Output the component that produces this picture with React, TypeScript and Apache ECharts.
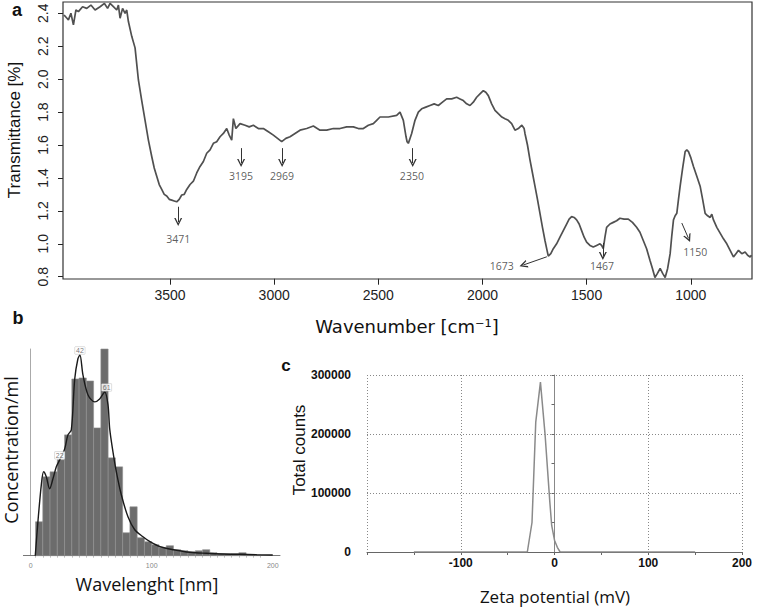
import React, { useEffect, useRef } from 'react';
import * as echarts from 'echarts';

// ---------- Panel a : FTIR spectrum ----------
const ftirWavenumber = [
  4009, 3995, 3988, 3976, 3964, 3952, 3940, 3920, 3900, 3880, 3860, 3836, 3815, 3800, 3788, 3772, 3756, 3748, 3740, 3728,
  3716, 3708, 3700, 3684, 3668, 3652, 3636, 3620, 3604, 3588, 3576, 3564, 3552, 3540, 3528, 3516, 3504, 3492, 3480, 3468,
  3456, 3444, 3432, 3420, 3404, 3388, 3372, 3356, 3340, 3324, 3308, 3292, 3276, 3260, 3244, 3228, 3216, 3204, 3196, 3184,
  3164, 3140, 3120, 3100, 3076, 3052, 3028, 3004, 2984, 2964, 2944, 2924, 2900, 2876, 2844, 2812, 2780, 2748, 2716, 2684,
  2652, 2620, 2596, 2572, 2548, 2524, 2508, 2492, 2452, 2412, 2396, 2380, 2367, 2362, 2356, 2348, 2340, 2324, 2308, 2292,
  2272, 2252, 2232, 2212, 2192, 2172, 2148, 2124, 2108, 2092, 2076, 2060, 2044, 2028, 2012, 1996, 1984, 1972, 1956, 1940,
  1924, 1907, 1892, 1876, 1860, 1844, 1828, 1811, 1800, 1796, 1784, 1772, 1760, 1748, 1736, 1724, 1712, 1700, 1690, 1684,
  1672, 1660, 1644, 1628, 1612, 1596, 1584, 1572, 1560, 1548, 1536, 1524, 1512, 1500, 1484, 1468, 1452, 1436, 1428, 1420,
  1412, 1404, 1388, 1372, 1356, 1340, 1320, 1300, 1280, 1260, 1244, 1228, 1212, 1196, 1184, 1172, 1160, 1147, 1135, 1123,
  1111, 1099, 1091, 1083, 1075, 1067, 1059, 1051, 1039, 1027, 1019, 1011, 999, 987, 971, 955, 943, 931, 919, 907,
  899, 891, 875, 859, 843, 827, 811, 795, 783, 771, 755, 739, 727, 715, 709,
];
const ftirTransmittance = [
  2.39, 2.37, 2.36, 2.4, 2.33, 2.42, 2.41, 2.44, 2.43, 2.45, 2.42, 2.44, 2.46, 2.43, 2.46, 2.44, 2.42, 2.45, 2.37, 2.43,
  2.4, 2.42, 2.35, 2.26, 2.19, 1.995, 1.87, 1.75, 1.63, 1.53, 1.46, 1.41, 1.36, 1.33, 1.3, 1.29, 1.27, 1.265, 1.26, 1.255,
  1.27, 1.296, 1.3, 1.33, 1.36, 1.38, 1.43, 1.47, 1.5, 1.55, 1.57, 1.61, 1.62, 1.65, 1.67, 1.7, 1.66, 1.63, 1.76, 1.7,
  1.73, 1.72, 1.71, 1.72, 1.7, 1.7, 1.68, 1.66, 1.64, 1.62, 1.64, 1.65, 1.67, 1.69, 1.7, 1.715, 1.69, 1.69, 1.7, 1.7,
  1.71, 1.71, 1.7, 1.7, 1.72, 1.73, 1.75, 1.77, 1.77, 1.78, 1.8, 1.75, 1.65, 1.62, 1.61, 1.64, 1.67, 1.75, 1.8, 1.82,
  1.83, 1.84, 1.85, 1.84, 1.86, 1.88, 1.88, 1.89, 1.88, 1.87, 1.85, 1.84, 1.86, 1.89, 1.91, 1.93, 1.92, 1.9, 1.85, 1.81,
  1.79, 1.77, 1.76, 1.75, 1.73, 1.69, 1.7, 1.72, 1.7, 1.67, 1.6, 1.51, 1.43, 1.35, 1.27, 1.185, 1.1, 1.02, 0.96, 0.925,
  0.94, 0.97, 1.0, 1.04, 1.08, 1.12, 1.15, 1.165, 1.16, 1.145, 1.12, 1.08, 1.04, 1.01, 0.99, 0.98, 0.99, 1.0, 0.99, 0.97,
  1.04, 1.1, 1.12, 1.13, 1.14, 1.155, 1.15, 1.15, 1.13, 1.1, 1.07, 1.02, 0.97, 0.9, 0.85, 0.795, 0.82, 0.85, 0.82, 0.795,
  0.85, 0.94, 1.05, 1.145, 1.17, 1.185, 1.27, 1.35, 1.46, 1.56, 1.57, 1.56, 1.52, 1.47, 1.41, 1.35, 1.27, 1.185, 1.17, 1.16,
  1.18, 1.145, 1.1, 1.065, 1.03, 1.0, 0.96, 0.92, 0.94, 0.96, 0.94, 0.95, 0.93, 0.92, 0.93,
];
const ftirTicks = [1000, 1500, 2000, 2500, 3000, 3500];

const peakLabels = ['3471', '3195', '2969', '2350', '1673', '1467', '1150'];
const peakLabelX = [3461, 3159, 2962, 2339, 1907, 1426, 979];
const peakLabelY = [1.029, 1.411, 1.411, 1.411, 0.865, 0.865, 0.95];
const arrowFromX = [3461, 3159, 2962, 2335, 1691, 1422, 1043];
const arrowFromY = [1.225, 1.581, 1.581, 1.581, 0.921, 1.005, 1.126];
const arrowToX = [3461, 3159, 2962, 2335, 1804, 1422, 1011];
const arrowToY = [1.132, 1.49, 1.49, 1.49, 0.871, 0.926, 1.033];

// ---------- Panel b : size distribution ----------
const sizeBinEdges = [4, 10, 16, 22, 28, 34, 40, 46, 52, 58, 64, 70, 76, 82, 88, 94, 100, 106, 112, 118, 124, 130, 136, 142, 148, 154, 160, 166, 172, 178, 184, 190];
const sizeBinHeights = [34, 79, 84, 96, 121, 177, 178, 175, 128, 207, 98, 89, 23, 49, 18, 14, 11, 8, 10, 6, 5, 4, 5, 6, 3, 2, 2, 2, 3, 1, 0.5];
const fitNm = [3.8, 6, 8.8, 10.7, 12.9, 15.7, 18.4, 21.2, 24, 28.1, 30.8, 33.6, 36.4, 39, 40.7, 43.2, 47.4, 52.9, 57, 61.2, 63.9, 65.3, 68, 70.8, 74.9, 80.4, 86, 92.8, 98.6, 107, 118, 131.7, 145, 159, 173, 186.8, 200];
const fitConc = [0, 34, 71, 84, 79, 67, 77, 89, 96, 107, 121, 126, 177, 197, 201, 181, 161, 154, 157, 164, 151, 127, 104, 84, 61, 39, 26, 19, 14, 9, 6, 3.4, 2.4, 1.7, 1.4, 1, 0.7];
const modeNm = [24, 40.7, 62.8];
const modeConc = [96, 201, 164];
const modeText = ['22', '42', '61'];
const sizeTicks = [0.01, 100, 200];

// ---------- Panel c : zeta potential ----------
const zetaMv = [-150, -29, -24, -20, -15, -10, -5, -3, 0, 3, 6, 150];
const zetaCounts = [0, 0, 50000, 220000, 288000, 198000, 85000, 45000, 20000, 8000, 0, 0];

const ARIAL = '"Liberation Sans", Arial, sans-serif';
const OPEN = '"Open Sans", "Noto Sans", sans-serif';

export default function App() {
  const ref = useRef<HTMLDivElement>(null);

  useEffect(() => {
    if (!ref.current) return;
    const chart = echarts.init(ref.current, undefined, { renderer: 'svg' });

    const chevron = 'path://M0,10 L5,0 L10,10 L8.2,10 L5,3.6 L1.8,10 Z';

    const option: any = {
      animation: false,
      backgroundColor: '#ffffff',
      grid: [
        { left: 63, top: 13.3, width: 689, height: 263.4, containLabel: false, outerBoundsMode: 'none' },
        { left: 23.4, top: 349, width: 256.6, height: 206.7, containLabel: false, outerBoundsMode: 'none' },
        { left: 367, top: 375, width: 375, height: 177, containLabel: false, outerBoundsMode: 'none' },
      ],
      xAxis: [
        {
          type: 'value', gridIndex: 0, min: 706, max: 4014, inverse: true, offset: 2,
          axisLine: { show: false },
          axisTick: { show: true, length: 6, customValues: ftirTicks, lineStyle: { color: '#222', width: 1 } },
          axisLabel: { customValues: ftirTicks, fontSize: 14, color: '#222', margin: 9, fontFamily: ARIAL, formatter: (v: number) => String(v) },
          splitLine: { show: false },
        },
        {
          type: 'value', gridIndex: 1, min: -6, max: 206,
          axisLine: { show: true, onZero: false, lineStyle: { color: '#777', width: 1 } },
          axisTick: { show: true, length: 2, customValues: sizeBinEdges, lineStyle: { color: '#999', width: 0.6 } },
          axisLabel: { customValues: sizeTicks, showMinLabel: true, fontSize: 7, color: '#888', margin: 6, fontFamily: ARIAL, formatter: (v: number) => String(Math.round(v)) },
          splitLine: { show: false },
        },
        {
          type: 'value', gridIndex: 2, min: -200, max: 200, interval: 100,
          axisLine: { show: true, onZero: false, lineStyle: { color: '#666', width: 1 } },
          axisTick: { show: true, length: 3, lineStyle: { color: '#666' } },
          minorTick: { show: true, splitNumber: 2, length: 3, lineStyle: { color: '#666' } },
          axisLabel: { fontSize: 12, fontWeight: 'bold', color: '#111', margin: 5, fontFamily: ARIAL, showMinLabel: false, formatter: (v: number) => String(v) },
          splitLine: { show: true, lineStyle: { color: '#888', type: [1, 2], width: 1 } },
        },
      ],
      yAxis: [
        {
          type: 'value', gridIndex: 0, min: 0.8, max: 2.4, interval: 0.2,
          axisLine: { show: false },
          axisTick: { show: true, length: 5, lineStyle: { color: '#222', width: 1 } },
          axisLabel: {
            rotate: 90, fontSize: 14, color: '#222', margin: 13, fontFamily: ARIAL,
            formatter: (v: number) => v.toFixed(1),
          },
          splitLine: { show: false },
        },
        {
          type: 'value', gridIndex: 1, min: 0, max: 207,
          axisLine: { show: true, onZero: true, lineStyle: { color: '#aaa', width: 1 } },
          axisTick: { show: false },
          axisLabel: { show: false },
          splitLine: { show: false },
        },
        {
          type: 'value', gridIndex: 2, min: 0, max: 300000, interval: 100000,
          axisLine: { show: true, lineStyle: { color: '#888', width: 1 } },
          axisTick: { show: true, length: 3, lineStyle: { color: '#666' } },
          minorTick: { show: true, splitNumber: 2, length: 3, lineStyle: { color: '#666' } },
          axisLabel: { fontSize: 12, fontWeight: 'bold', color: '#111', margin: 16, fontFamily: ARIAL, formatter: (v: number) => String(v) },
          splitLine: { show: true, lineStyle: { color: '#888', type: [1, 2], width: 1 } },
        },
      ],
      series: [
        {
          type: 'line', xAxisIndex: 0, yAxisIndex: 0, clip: false, symbol: 'none',
          data: ftirWavenumber.map((w, i) => [w, ftirTransmittance[i]]),
          lineStyle: { color: '#505050', width: 1.7 },
          markLine: {
            silent: true, symbol: ['none', chevron], symbolSize: 8,
            label: { show: false },
            lineStyle: { color: '#333', width: 1, type: 'solid' },
            itemStyle: { color: '#333' },
            emphasis: { disabled: true },
            data: arrowFromX.map((x, i) => [
              { coord: [x, arrowFromY[i]] },
              { coord: [arrowToX[i], arrowToY[i]] },
            ]),
          },
        },
        {
          type: 'scatter', xAxisIndex: 0, yAxisIndex: 0, symbolSize: 0, silent: true,
          data: peakLabelX.map((x, i) => [x, peakLabelY[i], peakLabels[i]]),
          label: {
            show: true, position: 'inside', fontSize: 10.5, color: '#333', fontFamily: OPEN,
            formatter: (p: any) => p.data[2],
          },
        },
        {
          type: 'custom', xAxisIndex: 1, yAxisIndex: 1,
          data: sizeBinHeights.map((h, i) => [sizeBinEdges[i], sizeBinEdges[i + 1], h]),
          encode: { x: [0, 1], y: 2 },
          renderItem: (params: any, api: any) => {
            const p0 = api.coord([api.value(0), api.value(2)]);
            const p1 = api.coord([api.value(1), 0]);
            return {
              type: 'rect',
              shape: { x: p0[0], y: p0[1], width: p1[0] - p0[0], height: p1[1] - p0[1] },
              style: { fill: '#6c6c6c', stroke: '#929292', lineWidth: 0.6 },
            };
          },
        },
        {
          type: 'line', xAxisIndex: 1, yAxisIndex: 1, symbol: 'none', smooth: 0.3,
          data: fitNm.map((x, i) => [x, fitConc[i]]),
          lineStyle: { color: '#1a1a1a', width: 1.4 },
          z: 5,
        },
        {
          type: 'scatter', xAxisIndex: 1, yAxisIndex: 1, symbolSize: 0, silent: true, z: 6,
          data: modeNm.map((x, i) => [x, modeConc[i], modeText[i]]),
          label: {
            show: true, position: 'top', distance: 1, fontSize: 7, color: '#555', fontFamily: ARIAL,
            backgroundColor: '#ffffff', borderColor: '#bbb', borderWidth: 0.5, padding: [0, 1],
            formatter: (p: any) => p.data[2],
          },
        },
        {
          type: 'line', xAxisIndex: 2, yAxisIndex: 2, symbol: 'none',
          data: zetaMv.map((x, i) => [x, zetaCounts[i]]),
          lineStyle: { color: '#8a8a8a', width: 1.5 },
        },
      ],
      graphic: [
        { type: 'rect', shape: { x: 63, y: 2, width: 689, height: 277 }, style: { fill: 'none', stroke: '#333', lineWidth: 1.2 }, z: 10 },
        { type: 'text', x: 17, y: 10, style: { text: 'a', font: `bold 18px ${ARIAL}`, fill: '#111', align: 'center', verticalAlign: 'middle' } },
        { type: 'text', x: 18, y: 318, style: { text: 'b', font: `bold 18px ${ARIAL}`, fill: '#111', align: 'center', verticalAlign: 'middle' } },
        { type: 'text', x: 286, y: 365, style: { text: 'c', font: `bold 17px ${ARIAL}`, fill: '#111', align: 'center', verticalAlign: 'middle' } },
        { type: 'text', x: 14, y: 130, rotation: Math.PI / 2, style: { text: 'Transmittance [%]', font: `17px ${ARIAL}`, fill: '#111', align: 'center', verticalAlign: 'middle' } },
        { type: 'text', x: 407, y: 326, style: { text: 'Wavenumber [cm⁻¹]', font: `18px "DejaVu Sans", Verdana, sans-serif`, fill: '#111', align: 'center', verticalAlign: 'middle' } },
        { type: 'text', x: 11, y: 450, rotation: Math.PI / 2, style: { text: 'Concentration/ml', font: `18px ${OPEN}`, fill: '#111', align: 'center', verticalAlign: 'middle' } },
        { type: 'text', x: 147, y: 584, style: { text: 'Wavelenght [nm]', font: `18px ${OPEN}`, fill: '#111', align: 'center', verticalAlign: 'middle' } },
        { type: 'text', x: 299, y: 450, rotation: Math.PI / 2, style: { text: 'Total counts', font: `17px ${ARIAL}`, fill: '#111', align: 'center', verticalAlign: 'middle' } },
        { type: 'text', x: 555, y: 596, style: { text: 'Zeta potential (mV)', font: `17px ${OPEN}`, fill: '#111', align: 'center', verticalAlign: 'middle' } },
      ],
    };

    chart.setOption(option);
    return () => chart.dispose();
  }, []);

  return <div ref={ref} style={{ position: 'fixed', left: 0, top: 0, width: 761, height: 607 }} />;
}
